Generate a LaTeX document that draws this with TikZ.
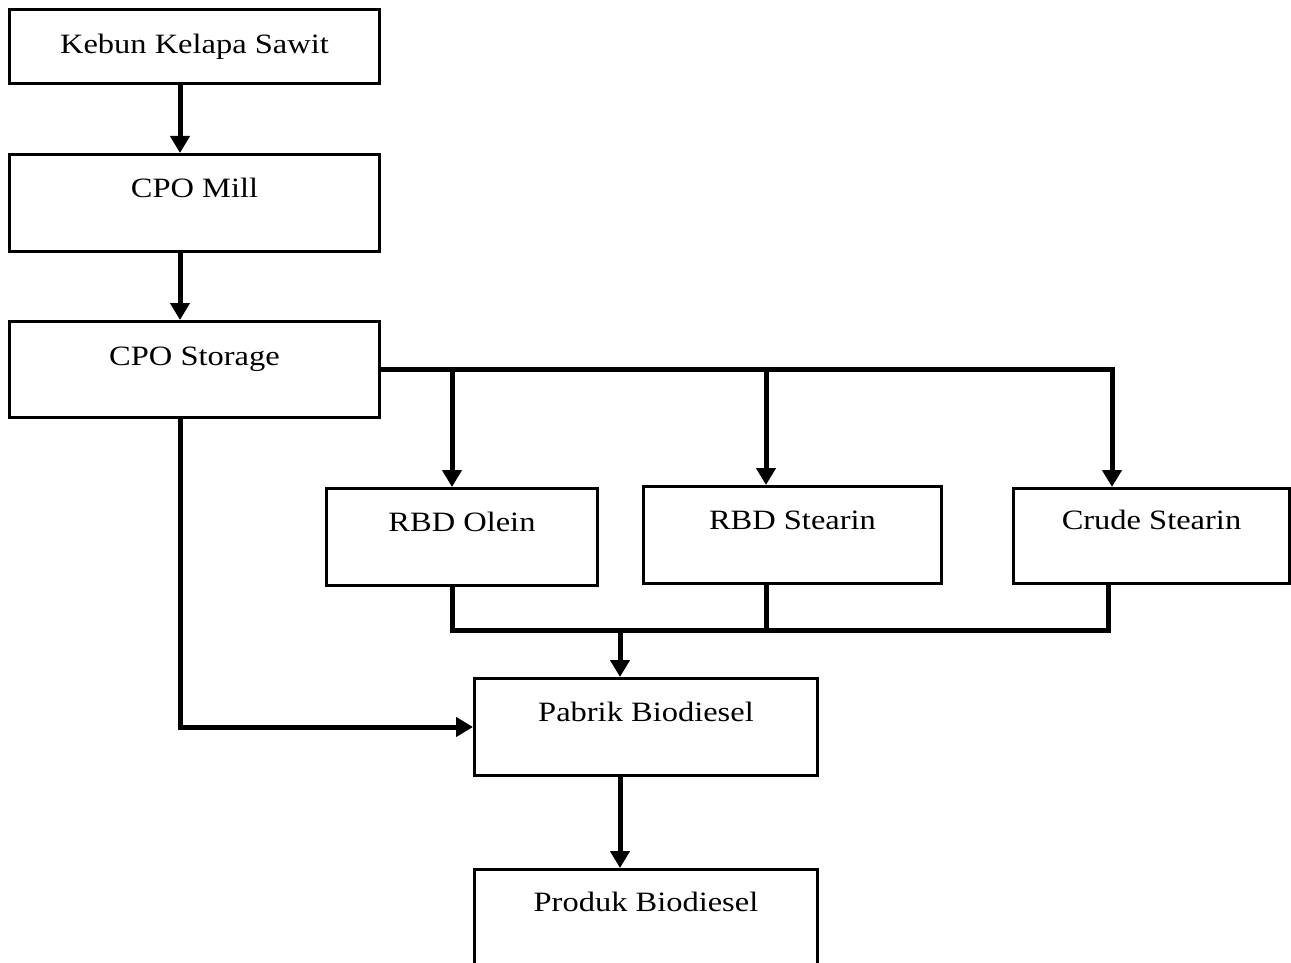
\documentclass[tikz,border=0pt]{standalone}
\usepackage{fontspec}
\setmainfont{Liberation Serif}[FakeStretch=1.16]
\usetikzlibrary{arrows.meta}
\begin{document}
\begin{tikzpicture}[x=1pt,y=-1pt,
  box/.style={draw, line width=3pt, inner sep=0pt, anchor=north west, fill=white,
    font=\fontsize{28}{34}\selectfont},
  conn/.style={line width=5pt},
  arr/.style={conn, -{Triangle[length=17pt,width=19pt]}}]
\path[use as bounding box] (0,0) rectangle (1291,963);
\clip (0,0) rectangle (1291,963);
% boxes
\node[box, minimum width=370pt, text height=44pt, text depth=30pt] (kebun) at (8,8) {Kebun Kelapa Sawit};
\node[box, minimum width=370pt, text height=43pt, text depth=54pt] (mill) at (8,153) {CPO Mill};
\node[box, minimum width=370pt, text height=44pt, text depth=52pt] (stor) at (8,320) {CPO Storage};
\node[box, minimum width=271pt, text height=43pt, text depth=54pt] (olein) at (325,487) {RBD Olein};
\node[box, minimum width=298pt, text height=43pt, text depth=54pt] (rs) at (642,485) {RBD Stearin};
\node[box, minimum width=276pt, text height=41pt, text depth=54pt] (cs) at (1012,487) {Crude Stearin};
\node[box, minimum width=343pt, text height=43pt, text depth=54pt] (pabrik) at (473,677) {Pabrik Biodiesel};
\node[box, minimum width=343pt, text height=42pt, text depth=80pt] (prod) at (473,868) {Produk Biodiesel};
% helper coordinates
\coordinate (m) at (620,630);
\coordinate (oT) at ([xshift=127pt]olein.north west);
\coordinate (rT) at ([xshift=124pt]rs.north west);
\coordinate (cT) at ([xshift=100pt]cs.north west);
\coordinate (oB) at ([xshift=127pt]olein.south west);
\coordinate (rB) at ([xshift=124pt]rs.south west);
\coordinate (cB) at ([xshift=96pt]cs.south west);
% connectors
\draw[arr] ([xshift=172pt]kebun.south west) -- ([xshift=172pt]mill.north west);
\draw[arr] ([xshift=172pt]mill.south west) -- ([xshift=172pt]stor.north west);
\draw[arr] (stor.east) -| (cT);
\draw[arr] (oT |- stor.east) -- (oT);
\draw[arr] (rT |- stor.east) -- (rT);
\draw[arr] ([xshift=172pt]stor.south west) |- (pabrik.west);
\draw[conn] (oB) |- (m) -| (cB);
\draw[conn] (rB) -- (rB |- m);
\draw[arr] (m) -- (m |- pabrik.north);
\draw[arr] ([xshift=147pt]pabrik.south west) -- ([xshift=147pt]prod.north west);
\end{tikzpicture}
\end{document}
